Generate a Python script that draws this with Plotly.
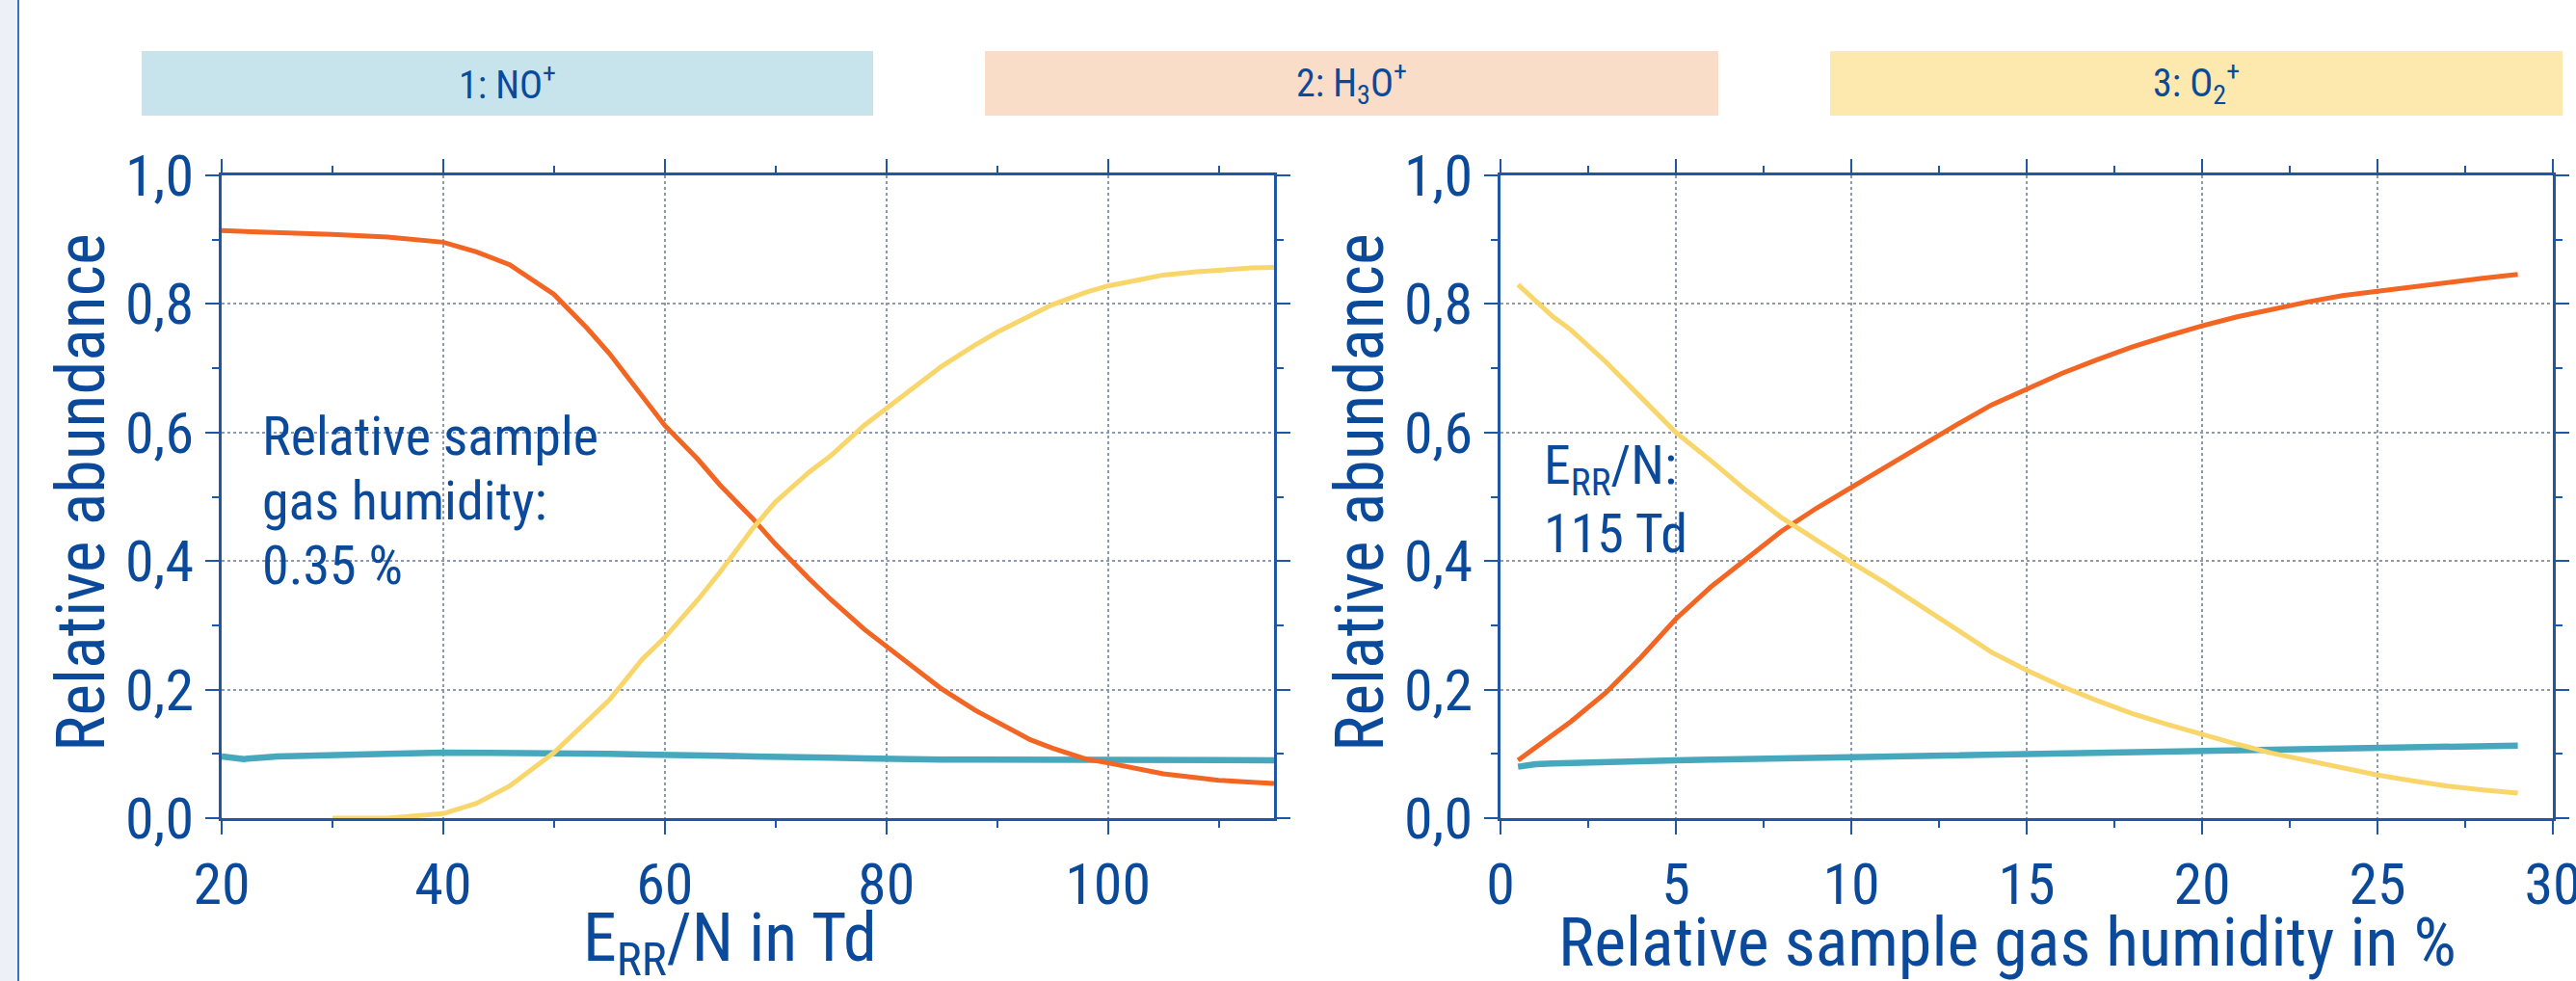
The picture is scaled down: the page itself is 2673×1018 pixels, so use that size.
import plotly.graph_objects as go

W, H = 2673, 1018

# ---------------- data ----------------
en_td = [20, 22, 25, 30, 35, 40, 43, 46, 50, 53, 55, 58, 60, 63, 65, 68, 70, 73, 75, 78,
         80, 83, 85, 88, 90, 93, 95, 98, 100, 103, 105, 108, 110, 113, 115]
left_no = [0.096, 0.092, 0.096, 0.099, 0.100, 0.102, 0.102, 0.102, 0.101, 0.100, 0.100, 0.099,
           0.099, 0.098, 0.097, 0.096, 0.096, 0.095, 0.094, 0.093, 0.092, 0.092, 0.091, 0.091,
           0.091, 0.090, 0.090, 0.090, 0.090, 0.090, 0.090, 0.090, 0.090, 0.090, 0.090]
left_h3o = [0.914, 0.913, 0.911, 0.908, 0.904, 0.896, 0.881, 0.861, 0.815, 0.762, 0.723, 0.657,
            0.611, 0.558, 0.518, 0.465, 0.426, 0.373, 0.340, 0.294, 0.267, 0.228, 0.201, 0.168,
            0.149, 0.122, 0.109, 0.092, 0.086, 0.076, 0.069, 0.063, 0.059, 0.056, 0.054]
left_o2 = [None, None, None, 0.0, 0.0, 0.007, 0.023, 0.050, 0.102, 0.151, 0.184, 0.248,
           0.281, 0.340, 0.383, 0.452, 0.492, 0.538, 0.564, 0.611, 0.637, 0.677, 0.703, 0.736,
           0.756, 0.782, 0.799, 0.818, 0.828, 0.838, 0.845, 0.850, 0.853, 0.856, 0.857]

humidity = [0.5, 1, 1.5, 2, 3, 4, 5, 6, 7, 8, 9, 10, 11, 12, 13, 14, 15, 16, 17, 18, 19, 20,
            21, 22, 23, 24, 25, 26, 27, 28, 29]
right_no = [0.080, 0.084, 0.085, 0.086, 0.087, 0.088, 0.090, 0.091, 0.092, 0.093, 0.094, 0.095,
            0.096, 0.097, 0.098, 0.100, 0.101, 0.102, 0.103, 0.104, 0.105, 0.106, 0.107, 0.108,
            0.109, 0.110, 0.111, 0.112, 0.112, 0.113, 0.113]
right_h3o = [0.090, 0.110, 0.130, 0.150, 0.195, 0.250, 0.310, 0.360, 0.403, 0.446, 0.482, 0.515,
             0.548, 0.580, 0.612, 0.643, 0.668, 0.692, 0.713, 0.733, 0.750, 0.766, 0.780, 0.792,
             0.803, 0.813, 0.820, 0.827, 0.834, 0.840, 0.846]
right_o2 = [0.830, 0.805, 0.780, 0.760, 0.710, 0.655, 0.600, 0.556, 0.510, 0.468, 0.432, 0.398,
            0.365, 0.330, 0.295, 0.258, 0.230, 0.205, 0.183, 0.163, 0.146, 0.130, 0.115, 0.101,
            0.090, 0.078, 0.067, 0.058, 0.050, 0.044, 0.039]

ion_labels = ["1: NO<sup>+</sup>", "2: H<sub>3</sub>O<sup>+</sup>", "3: O<sub>2</sub><sup>+</sup>"]
y_title = "Relative abundance"
x_title_left = "E<sub>RR</sub>/N in Td"
x_title_right = "Relative sample gas humidity in %"
note_left = ["Relative sample", "gas humidity:", "0.35 %"]
note_right = ["E<sub>RR</sub>/N:", "115 Td"]

# ---------------- style ----------------
FONT = "Liberation Sans Narrow, Arial Narrow, Roboto Condensed, Roboto, sans-serif"
TXT = "#0B4A9B"
AXC = "#1F57A4"
GRID = "#8E99AC"
C_NO = "#47A7BD"
C_H3O = "#F26522"
C_O2 = "#F9D66B"
BANNER = ["#C7E4EC", "#FADDC8", "#FDE8AE"]


def px(x):
    return x / W


def py(y):
    return 1 - y / H


fig = go.Figure()
for xs, ys, col, wd in [(en_td, left_no, C_NO, 6.5), (en_td, left_h3o, C_H3O, 5), (en_td, left_o2, C_O2, 5)]:
    fig.add_trace(go.Scatter(x=xs, y=ys, mode="lines", line=dict(color=col, width=wd),
                             xaxis="x", yaxis="y", showlegend=False, connectgaps=False))
for xs, ys, col, wd in [(humidity, right_no, C_NO, 6.5), (humidity, right_h3o, C_H3O, 5), (humidity, right_o2, C_O2, 5)]:
    fig.add_trace(go.Scatter(x=xs, y=ys, mode="lines", line=dict(color=col, width=wd),
                             xaxis="x2", yaxis="y2", showlegend=False))

ydom = [py(849), py(182)]
common = dict(showline=True, linecolor=AXC, linewidth=3, mirror="ticks", ticks="outside",
              ticklen=14, tickwidth=2, tickcolor=AXC, showgrid=True, gridcolor=GRID,
              griddash="dot", gridwidth=1.5, zeroline=False, ticklabeloverflow="allow",
              automargin=False, tickfont=dict(family=FONT, size=60, color=TXT))

fig.update_layout(
    width=W, height=H, margin=dict(l=0, r=0, t=0, b=0, pad=0, autoexpand=False),
    paper_bgcolor="white", plot_bgcolor="white",
    separators=",.",
    xaxis=dict(common, domain=[px(230), px(1322)], range=[20, 115], dtick=20, tick0=0,
               minor=dict(dtick=10, ticklen=7, tickwidth=2, tickcolor=AXC, ticks="outside"),
               anchor="y"),
    yaxis=dict(common, domain=ydom, range=[0, 1], dtick=0.2, tickformat=".1f",
               minor=dict(dtick=0.1, ticklen=7, tickwidth=2, tickcolor=AXC, ticks="outside"),
               anchor="x"),
    xaxis2=dict(common, domain=[px(1557), px(2649)], range=[0, 30], dtick=5,
                minor=dict(dtick=2.5, ticklen=7, tickwidth=2, tickcolor=AXC, ticks="outside"),
                anchor="y2"),
    yaxis2=dict(common, domain=ydom, range=[0, 1], dtick=0.2, tickformat=".1f",
                minor=dict(dtick=0.1, ticklen=7, tickwidth=2, tickcolor=AXC, ticks="outside"),
                anchor="x2"),
)

shapes = [
    dict(type="rect", xref="paper", yref="paper", x0=0, x1=px(18), y0=0, y1=1,
         fillcolor="#EEF0F8", line=dict(width=0), layer="below"),
    dict(type="line", xref="paper", yref="paper", x0=px(19), x1=px(19), y0=0, y1=1,
         line=dict(color="#3D6FC2", width=2)),
]
banner_x = [(147, 906), (1022, 1783), (1899, 2659)]
for (x0, x1), col in zip(banner_x, BANNER):
    shapes.append(dict(type="rect", xref="paper", yref="paper", x0=px(x0), x1=px(x1),
                       y0=py(120), y1=py(53), fillcolor=col, line=dict(width=0), layer="below"))
fig.update_layout(shapes=shapes)

ann = []
for (x0, x1), lab in zip(banner_x, ion_labels):
    ann.append(dict(text=lab, xref="paper", yref="paper", x=px((x0 + x1) / 2), y=py(86),
                    xanchor="center", yanchor="middle", showarrow=False,
                    font=dict(family=FONT, size=40, color=TXT)))
for xc in [84, 1411]:
    ann.append(dict(text=y_title, xref="paper", yref="paper", x=px(xc), y=py(511),
                    xanchor="center", yanchor="middle", textangle=-90, showarrow=False,
                    font=dict(family=FONT, size=70, color=TXT)))
ann.append(dict(text=x_title_left, xref="paper", yref="paper", x=px(603), y=py(978),
                xanchor="left", yanchor="middle", showarrow=False,
                font=dict(family=FONT, size=70, color=TXT)))
ann.append(dict(text=x_title_right, xref="paper", yref="paper", x=px(1615), y=py(978),
                xanchor="left", yanchor="middle", showarrow=False,
                font=dict(family=FONT, size=70, color=TXT)))
for i, line in enumerate(note_left):
    ann.append(dict(text=line, xref="paper", yref="paper", x=px(270), y=py(453 + 67 * i),
                    xanchor="left", yanchor="middle", showarrow=False,
                    font=dict(family=FONT, size=56, color=TXT)))
for i, line in enumerate(note_right):
    ann.append(dict(text=line, xref="paper", yref="paper", x=px(1600), y=py(487 + 67 * i),
                    xanchor="left", yanchor="middle", showarrow=False,
                    font=dict(family=FONT, size=56, color=TXT)))
fig.update_layout(annotations=ann)

fig.write_html("out.html")
